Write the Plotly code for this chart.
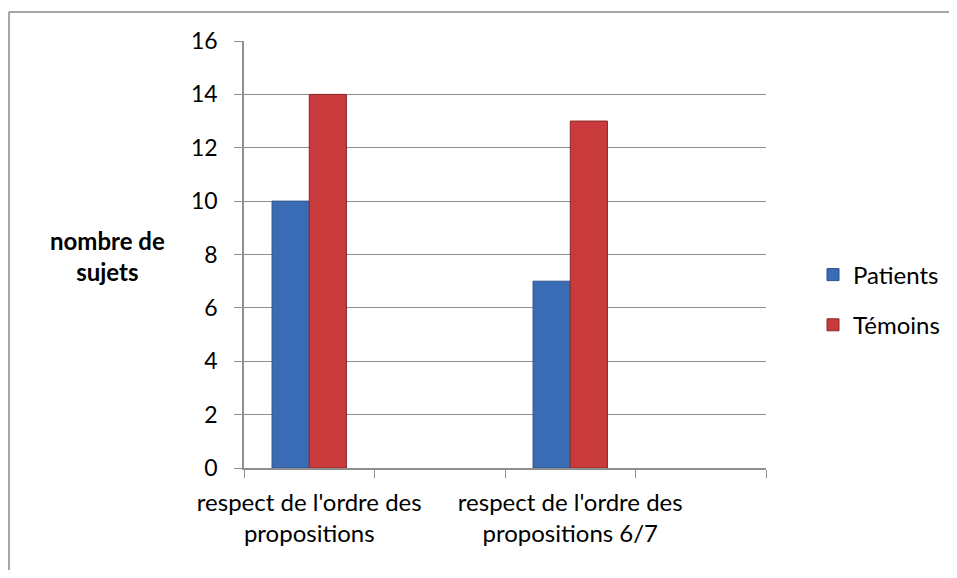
import plotly.graph_objects as go

categories = ["cat1", "cat2", "cat3", "cat4"]
category_labels = ["respect de l'ordre des<br>propositions", "", "respect de l'ordre des<br>propositions 6/7", ""]
patients = [10, None, 7, None]
temoins = [14, None, 13, None]
y_ticks = [0, 2, 4, 6, 8, 10, 12, 14, 16]

FONT = "Lato"
GRID = "#8f8f8f"
BORDER = "#8a8a8a"

fig = go.Figure()
fig.add_trace(go.Bar(
    x=categories, y=patients, name="Patients", legendgroup="a",
    marker=dict(color="#3a6cb6", line=dict(color="#2a5088", width=1)),
))
fig.add_trace(go.Bar(
    x=categories, y=temoins, name="Témoins", legendgroup="b",
    marker=dict(color="#c83a3b", line=dict(color="#8c2829", width=1)),
))

# page body has an 8px margin: figure sized to fit the window without scrollbars;
# plot area on screen spans x 244..766, y 41..468
px = lambda v: (v - 244) / 522
py = lambda v: (468 - v) / 427

fig.update_layout(
    width=941, height=562,
    margin=dict(l=236, r=183, t=33, b=102, autoexpand=False),
    paper_bgcolor="white", plot_bgcolor="white",
    barmode="group", bargap=0.43, bargroupgap=0,
    font=dict(family=FONT, size=24, color="#000000"),
    showlegend=True,
    legend=dict(x=px(813), xanchor="left", y=py(300), yanchor="middle",
                traceorder="grouped", tracegroupgap=16,
                font=dict(family=FONT, size=24),
                itemwidth=30, bgcolor="rgba(0,0,0,0)"),
    xaxis=dict(type="category", categoryorder="array", categoryarray=categories,
               tickmode="array", tickvals=categories, ticktext=category_labels,
               tickson="boundaries", ticks="outside", ticklen=8, tickcolor=GRID,
               showline=True, linecolor=GRID, linewidth=1.5, showgrid=False,
               tickangle=0, automargin=False, ticklabelstandoff=12,
               range=[-0.5, 3.5], tickfont=dict(family=FONT, size=24)),
    yaxis=dict(range=[0, 16], tickmode="array", tickvals=y_ticks,
               ticks="outside", ticklen=8, tickcolor=GRID,
               showline=True, linecolor=GRID, linewidth=1.5,
               showgrid=True, gridcolor=GRID, gridwidth=1.2,
               zeroline=False, ticklabelstandoff=12, automargin=False,
               tickfont=dict(family=FONT, size=23)),
    annotations=[dict(text="<b>nombre de<br>sujets</b>", xref="paper", yref="paper",
                      x=px(107), y=py(256), xanchor="center", yanchor="middle",
                      showarrow=False, align="center", font=dict(family=FONT, size=24))],
    shapes=[
        dict(type="line", xref="paper", yref="paper", x0=px(9), x1=px(1000), y0=py(12), y1=py(12),
             line=dict(color=BORDER, width=1.5), layer="below"),
        dict(type="line", xref="paper", yref="paper", x0=px(9), x1=px(9), y0=py(12), y1=py(700),
             line=dict(color=BORDER, width=1.5), layer="below"),
    ],
)

fig.write_html("out.html")
